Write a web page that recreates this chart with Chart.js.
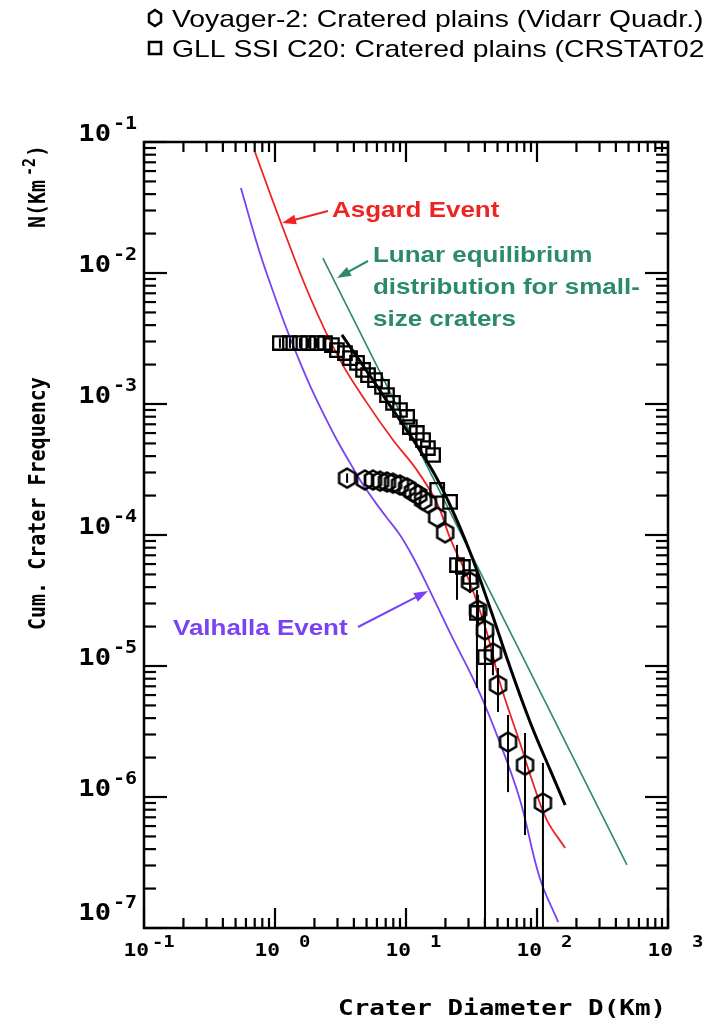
<!DOCTYPE html>
<html>
<head>
<meta charset="utf-8">
<script src="https://cdn.jsdelivr.net/npm/chart.js@4/dist/chart.umd.min.js"></script>
<style>
  html, body { margin: 0; padding: 0; background: #fff; }
  #chart { display: block; }
</style>
</head>
<body>
<canvas id="chart" width="710" height="1021"></canvas>
<script>
// axis ranges and decade tick labels
const xDecades = [0.1, 1, 10, 100, 1000];
const xTickExp = ['-1', '0', '1', '2', '3'];
const yDecades = [1e-1, 1e-2, 1e-3, 1e-4, 1e-5, 1e-6, 1e-7];
const yTickExp = ['-1', '-2', '-3', '-4', '-5', '-6', '-7'];

// Voyager-2 cratered plains (hexagons)
const vgrD = [3.55, 4.86, 5.60, 6.34, 7.16, 7.96, 9.00, 10.2, 11.3, 12.4, 13.5, 14.7, 17.3, 19.9, 30.8, 35.5, 40.1, 46.1, 50.4, 60.1, 81.0, 111];
const vgrN = [2.72e-4, 2.63e-4, 2.63e-4, 2.58e-4, 2.54e-4, 2.49e-4, 2.41e-4, 2.29e-4, 2.13e-4, 2.02e-4, 1.85e-4, 1.75e-4, 1.37e-4, 1.04e-4, 4.38e-5, 2.67e-5, 1.88e-5, 1.26e-5, 7.16e-6, 2.63e-6, 1.75e-6, 9.0e-7];
const vgrLo = [2.50e-4, 2.42e-4, 2.42e-4, null, null, null, null, null, null, null, null, null, null, null, 3.6e-5, 2.0e-5, 1.35e-5, 8.5e-6, 4.46e-6, 1.09e-6, 5.13e-7, 1e-9];
const vgrHi = [2.95e-4, 2.86e-4, 2.86e-4, null, null, null, null, null, null, null, null, null, null, null, 5.3e-5, 3.5e-5, 2.6e-5, 1.8e-5, 9.66e-6, 4.23e-6, 3.08e-6, 1.82e-6];

// GLL SSI C20 cratered plains (squares)
const gllD = [1.09, 1.30, 1.55, 1.79, 2.09, 2.41, 2.72, 2.97, 3.42, 3.74, 4.23, 4.70, 5.13, 5.80, 6.56, 7.16, 7.96, 9.00, 10.2, 10.7, 12.1, 13.5, 14.7, 16.1, 17.3, 21.7, 24.5, 27.2, 30.8, 34.8, 40.1];
const gllN = [2.92e-3, 2.92e-3, 2.92e-3, 2.92e-3, 2.92e-3, 2.92e-3, 2.82e-3, 2.58e-3, 2.45e-3, 2.24e-3, 2.06e-3, 1.82e-3, 1.66e-3, 1.52e-3, 1.35e-3, 1.17e-3, 1.02e-3, 9.0e-4, 7.96e-4, 6.67e-4, 6.01e-4, 5.31e-4, 4.61e-4, 4.08e-4, 2.21e-4, 1.79e-4, 5.90e-5, 5.70e-5, 4.78e-5, 2.54e-5, 1.17e-5];
const gllLo = [2.68e-3, 2.68e-3, 2.68e-3, 2.68e-3, 2.68e-3, null, null, null, null, null, null, null, null, null, null, null, null, null, null, null, null, null, null, null, null, null, 3.2e-5, null, null, 6.79e-6, 1e-9];
const gllHi = [3.18e-3, 3.18e-3, 3.18e-3, 3.18e-3, 3.18e-3, null, null, null, null, null, null, null, null, null, null, null, null, null, null, null, null, null, null, null, null, null, 8.4e-5, null, null, 3.80e-5, 1.88e-5];

// model curves
const asgardD = [0.703, 1.09, 1.85, 3.13, 5.03, 7.96, 12.1, 17.2, 21.7, 30.8, 41.5, 52.2, 74.2, 93.2, 119, 164];
const asgardN = [8.39e-2, 2.54e-2, 6.56e-3, 2.17e-3, 1.02e-3, 5.31e-4, 3.13e-4, 1.76e-4, 9.48e-5, 4.30e-5, 1.79e-5, 7.42e-6, 2.58e-6, 1.28e-6, 6.67e-7, 4.08e-7];
const valhallaD = [0.549, 0.767, 1.00, 1.236, 1.55, 1.915, 2.41, 2.97, 3.74, 4.61, 5.80, 7.16, 9.00, 11.3, 14.5, 21.7, 34.8, 52.2, 74.2, 105, 145];
const valhallaN = [4.46e-2, 1.42e-2, 6.56e-3, 3.67e-3, 2.09e-3, 1.28e-3, 7.96e-4, 5.31e-4, 3.55e-4, 2.49e-4, 1.79e-4, 1.35e-4, 1.0e-4, 6.79e-5, 4.15e-5, 1.79e-5, 6.92e-6, 2.58e-6, 9.48e-7, 2.41e-7, 1.11e-7];
const lunarD = [2.32, 486];
const lunarN = [1.30e-2, 3.03e-7];
const fitD = [3.24, 6.67, 15.2, 21.7, 30.8, 43.8, 62.2, 88.5, 126, 164];
const fitN = [3.37e-3, 1.17e-3, 3.36e-4, 1.69e-4, 7.41e-5, 2.77e-5, 9.82e-6, 3.74e-6, 1.61e-6, 8.69e-7];

const RED = '#ee2424';
const GREEN = '#2b8a6b';
const PURPLE = '#7a42f2';
const SX = 1.18; // the scan is stretched horizontally

function pts(xs, ys) {
    return xs.map((v, i) => ({ x: v, y: ys[i] }));
}

function makeHex(w, h, lw) {
    const c = document.createElement('canvas');
    c.width = w + lw * 2;
    c.height = h + lw * 2;
    const g = c.getContext('2d');
    hexPath(g, c.width / 2, c.height / 2, w, h);
    g.lineWidth = lw;
    g.strokeStyle = '#000';
    g.stroke();
    return c;
}

function hexPath(g, cx, cy, w, h) {
    g.beginPath();
    g.moveTo(cx, cy - h / 2);
    g.lineTo(cx + w / 2, cy - h / 4);
    g.lineTo(cx + w / 2, cy + h / 4);
    g.lineTo(cx, cy + h / 2);
    g.lineTo(cx - w / 2, cy + h / 4);
    g.lineTo(cx - w / 2, cy - h / 4);
    g.closePath();
}

function stretchText(ctx, text, x, y, sx) {
    ctx.save();
    ctx.translate(x, y);
    ctx.scale(sx, 1);
    ctx.fillText(text, 0, 0);
    ctx.restore();
}

function arrow(ctx, x1, y1, x2, y2, color) {
    const ang = Math.atan2(y2 - y1, x2 - x1);
    const len = 14, half = 5;
    ctx.save();
    ctx.strokeStyle = color;
    ctx.fillStyle = color;
    ctx.lineWidth = 2;
    ctx.beginPath();
    ctx.moveTo(x1, y1);
    ctx.lineTo(x2 - Math.cos(ang) * len * 0.8, y2 - Math.sin(ang) * len * 0.8);
    ctx.stroke();
    ctx.beginPath();
    ctx.moveTo(x2, y2);
    ctx.lineTo(x2 - Math.cos(ang) * len - Math.sin(ang) * half, y2 - Math.sin(ang) * len + Math.cos(ang) * half);
    ctx.lineTo(x2 - Math.cos(ang) * len + Math.sin(ang) * half, y2 - Math.sin(ang) * len - Math.cos(ang) * half);
    ctx.closePath();
    ctx.fill();
    ctx.restore();
}

// vertical error bars from errLo / errHi
const errorBars = {
    id: 'errorBars',
    afterDatasetsDraw(chart) {
        const { ctx, chartArea: a, scales: { x, y } } = chart;
        ctx.save();
        ctx.beginPath();
        ctx.rect(a.left, a.top, a.right - a.left, a.bottom - a.top);
        ctx.clip();
        ctx.strokeStyle = '#000';
        ctx.lineWidth = 2;
        chart.data.datasets.forEach(ds => {
            if (!ds.errLo) return;
            ds.data.forEach((p, i) => {
                if (ds.errLo[i] == null) return;
                const px = x.getPixelForValue(p.x);
                const lo = Math.min(y.getPixelForValue(ds.errLo[i]), a.bottom);
                ctx.beginPath();
                ctx.moveTo(px, y.getPixelForValue(ds.errHi[i]));
                ctx.lineTo(px, lo);
                ctx.stroke();
            });
        });
        ctx.restore();
    }
};

// frame, inward ticks, labels, titles, legend and notes
const decorations = {
    id: 'decorations',
    afterDraw(chart) {
        const { ctx, chartArea: a, scales: { x, y } } = chart;
        ctx.save();
        ctx.strokeStyle = '#000';
        ctx.lineWidth = 2.5;
        ctx.strokeRect(a.left, a.top, a.right - a.left, a.bottom - a.top);

        ctx.lineWidth = 2.2;
        const tick = (x1, y1, x2, y2) => {
            ctx.beginPath(); ctx.moveTo(x1, y1); ctx.lineTo(x2, y2); ctx.stroke();
        };
        xDecades.forEach(d => {
            for (let m = 1; m <= 9; m++) {
                const v = d * m;
                if (v > xDecades[xDecades.length - 1] * 1.001) break;
                const px = x.getPixelForValue(v);
                const len = m === 1 ? 20 : 10;
                tick(px, a.bottom, px, a.bottom - len);
                tick(px, a.top, px, a.top + len);
            }
        });
        yDecades.forEach(d => {
            for (let m = 1; m <= 9; m++) {
                const v = d * m;
                if (v > yDecades[0] * 1.001) break;
                const py = y.getPixelForValue(v);
                const len = m === 1 ? 23 : 12;
                tick(a.left, py, a.left + len, py);
                tick(a.right, py, a.right - len, py);
            }
        });

        // tick labels
        ctx.fillStyle = '#000';
        ctx.textBaseline = 'alphabetic';
        yDecades.forEach((d, i) => {
            const py = y.getPixelForValue(d);
            const base = i === yDecades.length - 1 ? py - 8 : py - 1;
            ctx.font = 'bold 23px "DejaVu Sans Mono", monospace';
            ctx.textAlign = 'right';
            stretchText(ctx, '10', a.left - 33, base, SX);
            ctx.font = 'bold 17px "DejaVu Sans Mono", monospace';
            ctx.textAlign = 'left';
            stretchText(ctx, yTickExp[i], a.left - 31, base - 12, SX);
        });
        xDecades.forEach((d, i) => {
            const px = x.getPixelForValue(d);
            ctx.font = 'bold 18px "DejaVu Sans Mono", monospace';
            ctx.textAlign = 'right';
            stretchText(ctx, '10', px + 5, a.bottom + 28, SX);
            ctx.font = 'bold 16px "DejaVu Sans Mono", monospace';
            ctx.textAlign = 'left';
            stretchText(ctx, xTickExp[i], px + (xTickExp[i].length > 1 ? 8 : 24), a.bottom + 19, SX);
        });

        // axis titles
        ctx.textAlign = 'left';
        ctx.font = 'bold 22px "DejaVu Sans Mono", monospace';
        stretchText(ctx, 'Crater Diameter D(Km)', 338, 1015, SX);

        const vText = (text, sy, raise, font) => {
            ctx.save();
            ctx.translate(45 - raise, sy);
            ctx.rotate(-Math.PI / 2);
            ctx.scale(1, SX);
            ctx.font = font;
            ctx.fillText(text, 0, 0);
            ctx.restore();
        };
        vText('Cum. Crater Frequency', 630, 0, 'bold 20px "DejaVu Sans Mono", monospace');
        vText('N(Km', 228, 0, 'bold 20px "DejaVu Sans Mono", monospace');
        vText('-2', 176, 10, 'bold 15px "DejaVu Sans Mono", monospace');
        vText(')', 157, 0, 'bold 20px "DejaVu Sans Mono", monospace');

        // legend
        ctx.font = '24px "Liberation Sans", Arial, sans-serif';
        ctx.fillStyle = '#000';
        stretchText(ctx, 'Voyager-2: Cratered plains (Vidarr Quadr.)', 172, 27, SX);
        stretchText(ctx, 'GLL SSI C20: Cratered plains (CRSTAT02', 172, 57, SX);
        ctx.lineWidth = 2.5;
        hexPath(ctx, 155, 18, 12, 16);
        ctx.stroke();
        ctx.strokeRect(149, 42, 12, 12);

        // annotations
        ctx.font = 'bold 22px "Liberation Sans", Arial, sans-serif';
        ctx.fillStyle = RED;
        stretchText(ctx, 'Asgard Event', 332, 217, SX);
        arrow(ctx, 328, 211, 282, 223, RED);
        ctx.fillStyle = GREEN;
        stretchText(ctx, 'Lunar equilibrium', 373, 262, SX);
        stretchText(ctx, 'distribution for small-', 373, 294, SX);
        stretchText(ctx, 'size craters', 373, 326, SX);
        arrow(ctx, 368, 261, 337, 278, GREEN);
        ctx.fillStyle = PURPLE;
        stretchText(ctx, 'Valhalla Event', 173, 635, SX);
        arrow(ctx, 358, 627, 428, 591, PURPLE);
        ctx.restore();
    }
};

const hexImg = makeHex(16, 19, 2.5);

new Chart(document.getElementById('chart'), {
    type: 'scatter',
    data: {
        datasets: [
            { label: 'Voyager-2', data: pts(vgrD, vgrN), errLo: vgrLo, errHi: vgrHi,
              pointStyle: hexImg, pointRadius: 9, order: 0 },
            { label: 'GLL SSI C20', data: pts(gllD, gllN), errLo: gllLo, errHi: gllHi,
              pointStyle: 'rect', pointRadius: 9.5, borderColor: '#000', borderWidth: 2.3,
              backgroundColor: 'rgba(0,0,0,0)', order: 0 },
            { label: 'Fit', data: pts(fitD, fitN), showLine: true, borderColor: '#000', borderWidth: 3,
              pointRadius: 0, tension: 0.4, order: 1 },
            { label: 'Asgard Event', data: pts(asgardD, asgardN), showLine: true, borderColor: RED, borderWidth: 1.8,
              pointRadius: 0, tension: 0.4, order: 2 },
            { label: 'Valhalla Event', data: pts(valhallaD, valhallaN), showLine: true, borderColor: PURPLE, borderWidth: 1.8,
              pointRadius: 0, tension: 0.4, order: 2 },
            { label: 'Lunar equilibrium', data: pts(lunarD, lunarN), showLine: true, borderColor: GREEN, borderWidth: 1.6,
              pointRadius: 0, order: 2 }
        ]
    },
    options: {
        responsive: false,
        animation: false,
        events: [],
        layout: { padding: { left: 144, top: 142, right: 42, bottom: 93 } },
        plugins: { legend: { display: false }, tooltip: { enabled: false } },
        scales: {
            x: { type: 'logarithmic', min: xDecades[0], max: xDecades[xDecades.length - 1], display: false },
            y: { type: 'logarithmic', min: yDecades[yDecades.length - 1], max: yDecades[0], display: false }
        }
    },
    plugins: [errorBars, decorations]
});
</script>
</body>
</html>
